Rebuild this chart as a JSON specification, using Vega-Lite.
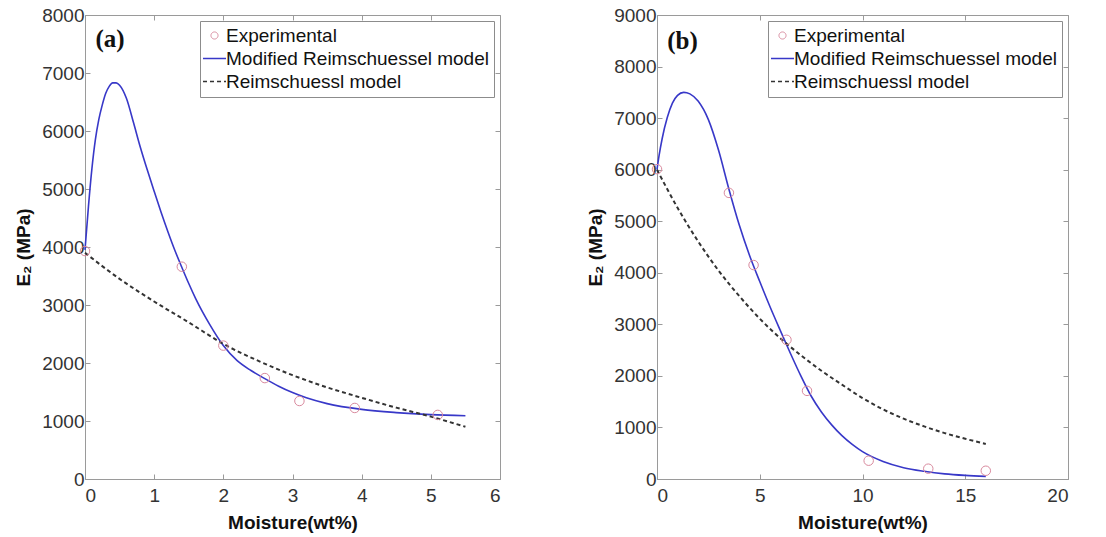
{
  "$schema": "https://vega.github.io/schema/vega-lite/v6.json",
  "padding": {"left": 14, "top": 5, "right": 5, "bottom": 5},
  "background": "white",
  "spacing": 85,
  "datasets": {
    "a": [
      {"series": "Experimental", "m": 0, "E": 3930},
      {"series": "Experimental", "m": 1.4, "E": 3660},
      {"series": "Experimental", "m": 2.0, "E": 2300},
      {"series": "Experimental", "m": 2.6, "E": 1740},
      {"series": "Experimental", "m": 3.1, "E": 1345},
      {"series": "Experimental", "m": 3.9, "E": 1225},
      {"series": "Experimental", "m": 5.1, "E": 1105},
      {"series": "Modified Reimschuessel model", "m": 0, "E": 3950},
      {"series": "Modified Reimschuessel model", "m": 0.05, "E": 4700},
      {"series": "Modified Reimschuessel model", "m": 0.1, "E": 5350},
      {"series": "Modified Reimschuessel model", "m": 0.15, "E": 5850},
      {"series": "Modified Reimschuessel model", "m": 0.2, "E": 6200},
      {"series": "Modified Reimschuessel model", "m": 0.25, "E": 6450},
      {"series": "Modified Reimschuessel model", "m": 0.3, "E": 6650},
      {"series": "Modified Reimschuessel model", "m": 0.35, "E": 6770},
      {"series": "Modified Reimschuessel model", "m": 0.4, "E": 6830},
      {"series": "Modified Reimschuessel model", "m": 0.45, "E": 6830},
      {"series": "Modified Reimschuessel model", "m": 0.5, "E": 6790},
      {"series": "Modified Reimschuessel model", "m": 0.6, "E": 6560},
      {"series": "Modified Reimschuessel model", "m": 0.7, "E": 6150},
      {"series": "Modified Reimschuessel model", "m": 0.8, "E": 5720},
      {"series": "Modified Reimschuessel model", "m": 0.9, "E": 5330},
      {"series": "Modified Reimschuessel model", "m": 1.0, "E": 4960},
      {"series": "Modified Reimschuessel model", "m": 1.1, "E": 4600},
      {"series": "Modified Reimschuessel model", "m": 1.2, "E": 4260},
      {"series": "Modified Reimschuessel model", "m": 1.3, "E": 3940},
      {"series": "Modified Reimschuessel model", "m": 1.4, "E": 3650},
      {"series": "Modified Reimschuessel model", "m": 1.5, "E": 3370},
      {"series": "Modified Reimschuessel model", "m": 1.6, "E": 3110},
      {"series": "Modified Reimschuessel model", "m": 1.8, "E": 2670},
      {"series": "Modified Reimschuessel model", "m": 2.0, "E": 2300},
      {"series": "Modified Reimschuessel model", "m": 2.2, "E": 2040},
      {"series": "Modified Reimschuessel model", "m": 2.4, "E": 1870},
      {"series": "Modified Reimschuessel model", "m": 2.6, "E": 1730},
      {"series": "Modified Reimschuessel model", "m": 2.8, "E": 1600},
      {"series": "Modified Reimschuessel model", "m": 3.0, "E": 1490},
      {"series": "Modified Reimschuessel model", "m": 3.2, "E": 1400},
      {"series": "Modified Reimschuessel model", "m": 3.5, "E": 1300},
      {"series": "Modified Reimschuessel model", "m": 4.0, "E": 1200},
      {"series": "Modified Reimschuessel model", "m": 4.5, "E": 1145},
      {"series": "Modified Reimschuessel model", "m": 5.0, "E": 1110},
      {"series": "Modified Reimschuessel model", "m": 5.5, "E": 1090},
      {"series": "Reimschuessl model", "m": 0, "E": 3900},
      {"series": "Reimschuessl model", "m": 0.5, "E": 3450},
      {"series": "Reimschuessl model", "m": 1.0, "E": 3060},
      {"series": "Reimschuessl model", "m": 1.5, "E": 2700},
      {"series": "Reimschuessl model", "m": 2.0, "E": 2330},
      {"series": "Reimschuessl model", "m": 2.5, "E": 2040},
      {"series": "Reimschuessl model", "m": 3.0, "E": 1790},
      {"series": "Reimschuessl model", "m": 3.5, "E": 1580},
      {"series": "Reimschuessl model", "m": 4.0, "E": 1400},
      {"series": "Reimschuessl model", "m": 4.5, "E": 1230},
      {"series": "Reimschuessl model", "m": 5.0, "E": 1075},
      {"series": "Reimschuessl model", "m": 5.5, "E": 900}
    ],
    "b": [
      {"series": "Experimental", "m": 0, "E": 6010},
      {"series": "Experimental", "m": 3.5, "E": 5550},
      {"series": "Experimental", "m": 4.7, "E": 4150},
      {"series": "Experimental", "m": 6.3, "E": 2700},
      {"series": "Experimental", "m": 7.3, "E": 1710},
      {"series": "Experimental", "m": 10.3, "E": 355},
      {"series": "Experimental", "m": 13.2, "E": 200},
      {"series": "Experimental", "m": 16.0, "E": 160},
      {"series": "Modified Reimschuessel model", "m": 0, "E": 6000},
      {"series": "Modified Reimschuessel model", "m": 0.1, "E": 6270},
      {"series": "Modified Reimschuessel model", "m": 0.25, "E": 6600},
      {"series": "Modified Reimschuessel model", "m": 0.5, "E": 7010},
      {"series": "Modified Reimschuessel model", "m": 0.75, "E": 7290},
      {"series": "Modified Reimschuessel model", "m": 1.0, "E": 7440},
      {"series": "Modified Reimschuessel model", "m": 1.3, "E": 7500},
      {"series": "Modified Reimschuessel model", "m": 1.6, "E": 7470},
      {"series": "Modified Reimschuessel model", "m": 2.0, "E": 7330},
      {"series": "Modified Reimschuessel model", "m": 2.5, "E": 6970},
      {"series": "Modified Reimschuessel model", "m": 3.0, "E": 6370},
      {"series": "Modified Reimschuessel model", "m": 3.5, "E": 5620},
      {"series": "Modified Reimschuessel model", "m": 4.0, "E": 4930},
      {"series": "Modified Reimschuessel model", "m": 4.5, "E": 4340},
      {"series": "Modified Reimschuessel model", "m": 5.0, "E": 3830},
      {"series": "Modified Reimschuessel model", "m": 5.5, "E": 3340},
      {"series": "Modified Reimschuessel model", "m": 6.0, "E": 2880},
      {"series": "Modified Reimschuessel model", "m": 6.5, "E": 2430},
      {"series": "Modified Reimschuessel model", "m": 7.0, "E": 2000},
      {"series": "Modified Reimschuessel model", "m": 7.5, "E": 1610},
      {"series": "Modified Reimschuessel model", "m": 8.0, "E": 1300},
      {"series": "Modified Reimschuessel model", "m": 8.5, "E": 1050},
      {"series": "Modified Reimschuessel model", "m": 9.0, "E": 840},
      {"series": "Modified Reimschuessel model", "m": 9.5, "E": 670},
      {"series": "Modified Reimschuessel model", "m": 10.0, "E": 530},
      {"series": "Modified Reimschuessel model", "m": 11.0, "E": 340},
      {"series": "Modified Reimschuessel model", "m": 12.0, "E": 220},
      {"series": "Modified Reimschuessel model", "m": 13.0, "E": 150},
      {"series": "Modified Reimschuessel model", "m": 14.0, "E": 100},
      {"series": "Modified Reimschuessel model", "m": 15.0, "E": 70},
      {"series": "Modified Reimschuessel model", "m": 16.0, "E": 50},
      {"series": "Reimschuessl model", "m": 0, "E": 6000},
      {"series": "Reimschuessl model", "m": 1, "E": 5260},
      {"series": "Reimschuessl model", "m": 2, "E": 4610},
      {"series": "Reimschuessl model", "m": 3, "E": 4040},
      {"series": "Reimschuessl model", "m": 4, "E": 3550},
      {"series": "Reimschuessl model", "m": 5, "E": 3110},
      {"series": "Reimschuessl model", "m": 6, "E": 2730},
      {"series": "Reimschuessl model", "m": 7, "E": 2400},
      {"series": "Reimschuessl model", "m": 8, "E": 2100},
      {"series": "Reimschuessl model", "m": 9, "E": 1830},
      {"series": "Reimschuessl model", "m": 10, "E": 1570},
      {"series": "Reimschuessl model", "m": 11, "E": 1350},
      {"series": "Reimschuessl model", "m": 12, "E": 1170},
      {"series": "Reimschuessl model", "m": 13, "E": 1020},
      {"series": "Reimschuessl model", "m": 14, "E": 890},
      {"series": "Reimschuessl model", "m": 15, "E": 780},
      {"series": "Reimschuessl model", "m": 16, "E": 680}
    ]
  },
  "hconcat": [
    {
      "width": 415,
      "height": 464,
      "data": {"name": "a"},
      "encoding": {
        "x": {"field": "m", "type": "quantitative", "title": "Moisture(wt%)", "scale": {"domain": [0, 6], "nice": false}, "axis": {"values": [0, 1, 2, 3, 4, 5, 6]}},
        "y": {"field": "E", "type": "quantitative", "title": "E₂ (MPa)", "scale": {"domain": [0, 8000], "nice": false}, "axis": {"values": [0, 1000, 2000, 3000, 4000, 5000, 6000, 7000, 8000], "format": "d"}},
        "color": {
          "field": "series", "type": "nominal",
          "scale": {"domain": ["Experimental", "Modified Reimschuessel model", "Reimschuessl model"], "range": ["#d98a9e", "#3838c8", "#333333"]},
          "legend": {
            "orient": "top-right", "offset": 6, "title": null,
            "strokeColor": "#8c8c8c", "fillColor": "white", "padding": 5,
            "symbolType": "stroke", "symbolSize": 529, "symbolStrokeWidth": 1.6,
            "labelFont": "Liberation Sans", "labelFontSize": 19, "labelColor": "#111111", "labelOffset": 2,
            "rowPadding": 3, "labelLimit": 400,
            "encode": {"symbols": {"update": {
              "shape": {"signal": "datum.value === 'Experimental' ? 'circle' : 'stroke'"},
              "size": {"signal": "datum.value === 'Experimental' ? 50 : 529"},
              "strokeWidth": {"signal": "datum.value === 'Experimental' ? 1 : 1.6"},
              "fill": {"value": "transparent"},
              "strokeDash": {"signal": "datum.value === 'Reimschuessl model' ? [4, 3] : [1, 0]"}
            }}}
          }
        }
      },
      "layer": [
        {"transform": [{"filter": "datum.series === 'Modified Reimschuessel model'"}], "mark": {"type": "line", "strokeWidth": 1.6, "interpolate": "monotone"}},
        {"transform": [{"filter": "datum.series === 'Reimschuessl model'"}], "mark": {"type": "line", "strokeWidth": 2, "strokeDash": [4, 3], "interpolate": "monotone"},
         "encoding": {"x": {"field": "m", "type": "quantitative", "scale": {"domain": [0, 6], "nice": false}, "axis": null}, "y": {"field": "E", "type": "quantitative", "scale": {"domain": [0, 8000], "nice": false}, "axis": null}}},
        {"transform": [{"filter": "datum.series === 'Experimental'"}], "mark": {"type": "point", "shape": "circle", "filled": false, "size": 90, "strokeWidth": 1, "opacity": 1},
         "encoding": {"x": {"field": "m", "type": "quantitative", "scale": {"domain": [0, 6], "nice": false}, "axis": null}, "y": {"field": "E", "type": "quantitative", "scale": {"domain": [0, 8000], "nice": false}, "axis": null}}},
        {"transform": [{"filter": "datum.series === 'Experimental' && datum.m === 0"}],
         "mark": {"type": "text", "font": "Liberation Serif", "fontWeight": "bold", "fontSize": 25, "align": "left", "baseline": "middle"},
         "encoding": {"x": {"datum": 0.15, "type": "quantitative", "scale": {"domain": [0, 6], "nice": false}, "axis": null}, "y": {"datum": 7580, "type": "quantitative", "scale": {"domain": [0, 8000], "nice": false}, "axis": null}, "text": {"value": "(a)"}, "color": {"value": "#111111"}}},
        {"transform": [{"filter": "datum.series === 'Experimental' && datum.m === 0"}],
         "mark": {"type": "point", "opacity": 0},
         "encoding": {
           "x": {"field": "m", "type": "quantitative", "scale": {"domain": [0, 6], "nice": false}, "axis": {"orient": "top", "labels": false, "title": null, "domain": false, "values": [0, 1, 2, 3, 4, 5, 6]}},
           "y": {"field": "E", "type": "quantitative", "scale": {"domain": [0, 8000], "nice": false}, "axis": {"orient": "right", "labels": false, "title": null, "domain": false, "values": [0, 1000, 2000, 3000, 4000, 5000, 6000, 7000, 8000]}},
           "color": {"value": "#ffffff"}}}
      ],
      "resolve": {"axis": {"x": "independent", "y": "independent"}}
    },
    {
      "width": 411,
      "height": 464,
      "data": {"name": "b"},
      "encoding": {
        "x": {"field": "m", "type": "quantitative", "title": "Moisture(wt%)", "scale": {"domain": [0, 20], "nice": false}, "axis": {"values": [0, 5, 10, 15, 20]}},
        "y": {"field": "E", "type": "quantitative", "title": "E₂ (MPa)", "scale": {"domain": [0, 9000], "nice": false}, "axis": {"values": [0, 1000, 2000, 3000, 4000, 5000, 6000, 7000, 8000, 9000], "format": "d"}},
        "color": {
          "field": "series", "type": "nominal",
          "scale": {"domain": ["Experimental", "Modified Reimschuessel model", "Reimschuessl model"], "range": ["#d98a9e", "#3838c8", "#333333"]},
          "legend": {
            "orient": "top-right", "offset": 6, "title": null,
            "strokeColor": "#8c8c8c", "fillColor": "white", "padding": 5,
            "symbolType": "stroke", "symbolSize": 529, "symbolStrokeWidth": 1.6,
            "labelFont": "Liberation Sans", "labelFontSize": 19, "labelColor": "#111111", "labelOffset": 2,
            "rowPadding": 3, "labelLimit": 400,
            "encode": {"symbols": {"update": {
              "shape": {"signal": "datum.value === 'Experimental' ? 'circle' : 'stroke'"},
              "size": {"signal": "datum.value === 'Experimental' ? 50 : 529"},
              "strokeWidth": {"signal": "datum.value === 'Experimental' ? 1 : 1.6"},
              "fill": {"value": "transparent"},
              "strokeDash": {"signal": "datum.value === 'Reimschuessl model' ? [4, 3] : [1, 0]"}
            }}}
          }
        }
      },
      "layer": [
        {"transform": [{"filter": "datum.series === 'Modified Reimschuessel model'"}], "mark": {"type": "line", "strokeWidth": 1.6, "interpolate": "monotone"}},
        {"transform": [{"filter": "datum.series === 'Reimschuessl model'"}], "mark": {"type": "line", "strokeWidth": 2, "strokeDash": [4, 3], "interpolate": "monotone"},
         "encoding": {"x": {"field": "m", "type": "quantitative", "scale": {"domain": [0, 20], "nice": false}, "axis": null}, "y": {"field": "E", "type": "quantitative", "scale": {"domain": [0, 9000], "nice": false}, "axis": null}}},
        {"transform": [{"filter": "datum.series === 'Experimental'"}], "mark": {"type": "point", "shape": "circle", "filled": false, "size": 90, "strokeWidth": 1, "opacity": 1},
         "encoding": {"x": {"field": "m", "type": "quantitative", "scale": {"domain": [0, 20], "nice": false}, "axis": null}, "y": {"field": "E", "type": "quantitative", "scale": {"domain": [0, 9000], "nice": false}, "axis": null}}},
        {"transform": [{"filter": "datum.series === 'Experimental' && datum.m === 0"}],
         "mark": {"type": "text", "font": "Liberation Serif", "fontWeight": "bold", "fontSize": 25, "align": "left", "baseline": "middle"},
         "encoding": {"x": {"datum": 0.5, "type": "quantitative", "scale": {"domain": [0, 20], "nice": false}, "axis": null}, "y": {"datum": 8500, "type": "quantitative", "scale": {"domain": [0, 9000], "nice": false}, "axis": null}, "text": {"value": "(b)"}, "color": {"value": "#111111"}}},
        {"transform": [{"filter": "datum.series === 'Experimental' && datum.m === 0"}],
         "mark": {"type": "point", "opacity": 0},
         "encoding": {
           "x": {"field": "m", "type": "quantitative", "scale": {"domain": [0, 20], "nice": false}, "axis": {"orient": "top", "labels": false, "title": null, "domain": false, "values": [0, 5, 10, 15, 20]}},
           "y": {"field": "E", "type": "quantitative", "scale": {"domain": [0, 9000], "nice": false}, "axis": {"orient": "right", "labels": false, "title": null, "domain": false, "values": [0, 1000, 2000, 3000, 4000, 5000, 6000, 7000, 8000, 9000]}},
           "color": {"value": "#ffffff"}}}
      ],
      "resolve": {"axis": {"x": "independent", "y": "independent"}}
    }
  ],
  "resolve": {"scale": {"color": "independent"}},
  "config": {
    "view": {"stroke": "#9a9a9a", "strokeWidth": 1},
    "axis": {
      "grid": false,
      "domainColor": "#9a9a9a",
      "tickColor": "#9a9a9a",
      "tickSize": -5,
      "labelFont": "Liberation Sans",
      "labelFontSize": 19,
      "labelColor": "#333333",
      "titleFont": "Liberation Sans",
      "titleFontSize": 19,
      "titleFontWeight": "bold",
      "titleColor": "#111111",
      "labelPadding": 6
    },
    "axisX": {"labelPadding": 12, "titlePadding": 8},
    "axisY": {"titlePadding": 8}
  }
}
